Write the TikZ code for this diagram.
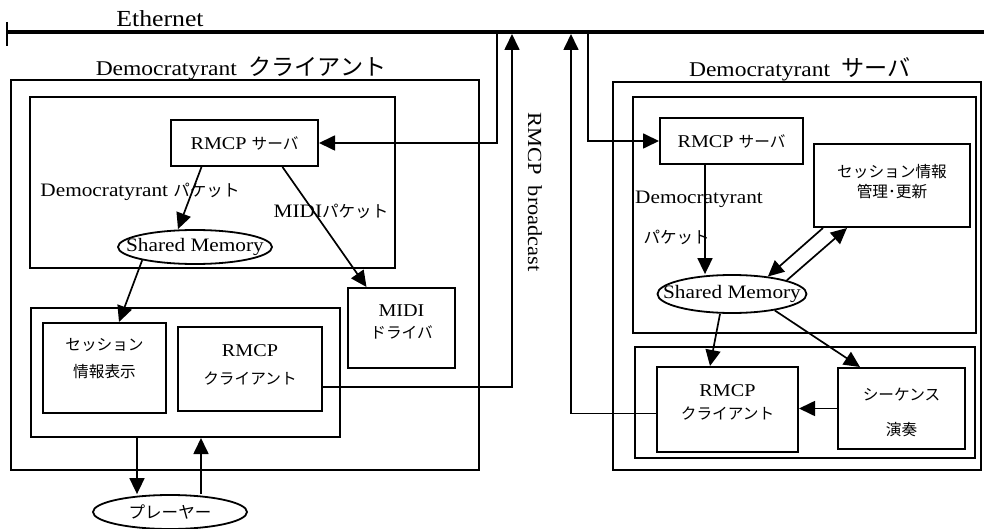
\documentclass[tikz,border=0pt]{standalone}
\usepackage{fontspec}
\setmainfont{Liberation Serif}[FakeStretch=1.12]
\newfontfamily\jpfont{Noto Sans CJK JP}[Scale=0.87]
\newfontfamily\jptitle{Noto Sans CJK JP}[Scale=1.1]
\newcommand\ja[1]{{\jpfont #1}}
\newcommand\jat[1]{{\jptitle #1}}
\usetikzlibrary{arrows.meta,shapes.geometric,positioning,calc}
\tikzset{
  frame/.style={draw, line width=2pt, inner sep=0pt},
  dtbox/.style={draw, line width=2pt, align=center, inner sep=2pt, font=\fontsize{18}{20}\selectfont},
  txt/.style={align=center, font=\fontsize{18}{20}\selectfont},
  shm/.style={draw, ellipse, line width=1.8pt, inner sep=0pt, font=\fontsize{19}{20}\selectfont},
  title/.style={font=\fontsize{21}{24}\selectfont},
  tag/.style={font=\fontsize{19}{20}\selectfont},
  link/.style={line width=1.7pt, -{Triangle[length=16pt,width=15pt]}},
  wire/.style={line width=1.7pt},
  ether/.style={line width=3.6pt}
}
\begin{document}
\begin{tikzpicture}[x=1pt, y=-1pt]
  \useasboundingbox (0,0) rectangle (984,529);
  % Ethernet
  \coordinate (ethL) at (7,32);
  \coordinate (ethR) at (984,32);
  \draw[ether] (ethL) -- (ethR);
  \draw[wire] ([yshift=10pt]ethL) -- ([yshift=-14pt]ethL);
  \node[title, font=\fontsize{23}{24}\selectfont] (ethlbl) at (160,19) {Ethernet};
  \coordinate (tapA) at (497,32);
  \coordinate (tapB) at (512,34);
  \coordinate (tapC) at (571,34);
  \coordinate (tapD) at (588,32);

  % client
  \node[frame, minimum width=468, minimum height=390] (client) at (245,275) {};
  \node[title] (clienttl) at (241,68) {Democratyrant\ \ \jat{クライアント}};
  \node[frame, minimum width=365, minimum height=171] (cup) at (212.5,182.5) {};
  \node[dtbox, minimum width=147, minimum height=46] (csrv) at (244.5,143) {RMCP \ja{サーバ}};
  \node[shm, minimum width=154, minimum height=34] (cshm) at (195,247) {\makebox[0pt]{Shared Memory}};
  \node[tag] (cpkt) at (140,192) {Democratyrant \ja{パケット}};
  \node[tag] (cmidipkt) at (331,211) {MIDI\ja{パケット}};
  \node[dtbox, minimum width=107, minimum height=80,
    label={[txt, yshift=6.5pt]center:MIDI\\[2pt]\ja{ドライバ}}] (cmidi) at (401.5,328) {};
  \node[frame, minimum width=309, minimum height=129] (clow) at (185.5,372.5) {};
  \node[dtbox, minimum width=123, minimum height=90,
    label={[txt, yshift=9.5pt]center:\ja{セッション}\\[7pt]\ja{情報表示}}] (csess) at (104.5,368) {};
  \node[dtbox, minimum width=144, minimum height=84,
    label={[txt, yshift=4.5pt]center:RMCP\\[8pt]\ja{クライアント}}] (ccli) at (250,369) {};
  \node[shm, minimum width=154, minimum height=34] (player) at (170,512) {\makebox[0pt]{\ja{プレーヤー}}};

  \node[tag, rotate=-90, font=\fontsize{20}{20}\selectfont] (bcast) at (535,192) {RMCP\ \ broadcast};

  % server
  \node[frame, minimum width=368, minimum height=388] (server) at (797,276) {};
  \node[title] (servertl) at (800,69) {Democratyrant\ \ \jat{サーバ}};
  \node[frame, minimum width=343, minimum height=236] (sup) at (804.5,215) {};
  \node[dtbox, minimum width=143, minimum height=46] (ssrv) at (731.5,141) {RMCP \ja{サーバ}};
  \node[dtbox, minimum width=156, minimum height=83,
    label={[txt, yshift=4pt]center:\ja{セッション情報}\\\ja{管理･更新}}] (ssess) at (892,185.5) {};
  \node[tag] (spkt) at (699,199) {Democratyrant};
  \node[tag, anchor=west] (spkt2) at (640,237) {\ja{パケット}};
  \node[shm, minimum width=149, minimum height=38] (sshm) at (732,294) {\makebox[0pt]{Shared Memory}};
  \node[frame, minimum width=340, minimum height=111] (slow) at (805,402.5) {};
  \node[dtbox, minimum width=141, minimum height=85,
    label={[txt, yshift=7.5pt]center:RMCP\\[3pt]\ja{クライアント}}] (scli) at (727.5,409.5) {};
  \node[dtbox, minimum width=127, minimum height=81,
    label={[txt, yshift=-4pt]center:\ja{シーケンス}\\[15pt]\ja{演奏}}] (sseq) at (901.5,408.5) {};

  % connectors
  \draw[link] (tapA) |- (csrv.east);
  \draw[link] ([yshift=-18pt]ccli.east) -| (tapB);
  \draw[link] ([yshift=-4pt]scli.west) -| (tapC);
  \draw[link] (tapD) |- (ssrv.west);
  \draw[link] ([xshift=-43pt]csrv.south) -- ([xshift=-17pt]cshm.north);
  \draw[link] ([xshift=38pt]csrv.south) -- ([xshift=-35pt]cmidi.north);
  \draw[link] (cshm.194) -- ([xshift=14.5pt]csess.north);
  \draw[link] ([xshift=-48.5pt]clow.south) -- ([xshift=-33pt]player.north);
  \draw[link] ([xshift=31pt]player.north) -- ([xshift=15.5pt]clow.south);
  \draw[link] ([xshift=-26.5pt]ssrv.south) -- ([xshift=-27pt]sshm.north);
  \draw[link] ([xshift=-69pt]ssess.south) -- (sshm.26);
  \draw[link] (sshm.14) -- ([xshift=-45pt]ssess.south);
  \draw[link] ([xshift=-12pt]sshm.south) -- ([xshift=-17.5pt]scli.north);
  \draw[link] (sshm.-21) -- ([xshift=-41.5pt]sseq.north);
  \draw[link] (sseq.west) -- (sseq.west -| scli.east);
\end{tikzpicture}
\end{document}
